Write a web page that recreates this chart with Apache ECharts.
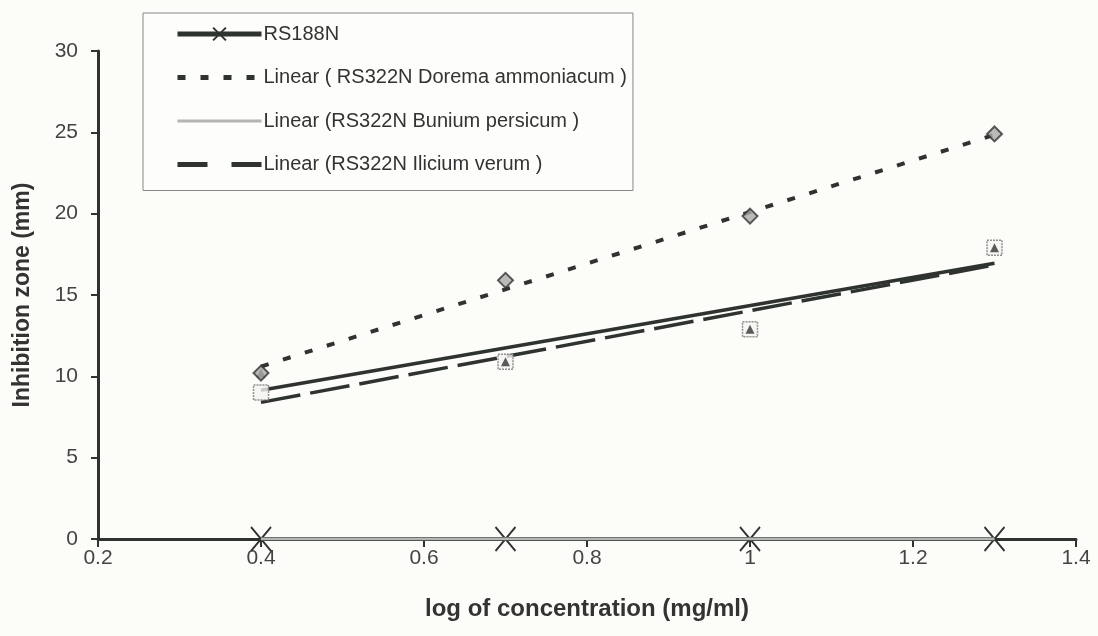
<!DOCTYPE html>
<html><head><meta charset="utf-8">
<script src="https://cdn.jsdelivr.net/npm/echarts@6/dist/echarts.min.js"></script>
<style>html,body{margin:0;padding:0;background:#fcfcf9;}#c{width:1098px;height:636px;}</style>
</head><body><div id="c"></div>
<script>
var xValues = [0.4, 0.7, 1.0, 1.3];
var rs188n = [0, 0, 0, 0];
var doremaPoints = [10.2, 15.9, 19.85, 24.9];
var squarePoints = [9.0, 10.9, 12.9, 17.9];
var trianglePoints = [10.2, 10.9, 12.9, 17.9];
var trendX = [0.4, 1.3];
var doremaTrend = [10.6, 24.85];
var buniumTrend = [0, 0];
var iliciumTrend = [8.4, 16.85];
var solidTrend = [9.15, 16.95];
var xTicks = [0.2, 0.4, 0.6, 0.8, 1, 1.2, 1.4];
var yTicks = [0, 5, 10, 15, 20, 25, 30];
var names = ['RS188N', 'Linear ( RS322N Dorema ammoniacum )', 'Linear (RS322N Bunium persicum )', 'Linear (RS322N Ilicium verum )'];

function pairs(xs, ys) { return xs.map(function (x, i) { return [x, ys[i]]; }); }

var dark = '#2f3330';
var font = 'Liberation Sans, Arial';
var hideSym = { color: 'rgba(0,0,0,0)', borderWidth: 0, opacity: 0 };
var chart = echarts.init(document.getElementById('c'));
chart.setOption({
  backgroundColor: '#fcfcf9',
  animation: false,
  grid: { left: 98, right: 22, top: 51, bottom: 97 },
  legend: {
    data: [
      { name: names[0], lineStyle: { width: 5 } },
      { name: names[1], itemStyle: hideSym, lineStyle: { width: 5 } },
      { name: names[2], itemStyle: hideSym, lineStyle: { width: 3 } },
      { name: names[3], itemStyle: hideSym, lineStyle: { width: 5, type: [30, 24] } }
    ],
    orient: 'vertical',
    left: 143, top: 13,
    padding: [11, 6, 16, 32],
    itemWidth: 84, itemHeight: 16, itemGap: 23.5,
    backgroundColor: '#fdfdfb',
    borderColor: '#888', borderWidth: 1,
    textStyle: { fontFamily: font, fontSize: 20, color: '#333', padding: [0, 0, 0, -3] }
  },
  xAxis: {
    type: 'value', min: 0.2, max: 1.4, interval: 0.2,
    name: 'log of concentration (mg/ml)', nameLocation: 'middle', nameGap: 58,
    nameTextStyle: { fontFamily: font, fontSize: 24, fontWeight: 'bold', color: '#333' },
    axisLine: { lineStyle: { color: dark, width: 3 } },
    axisTick: { show: true, length: 8, lineStyle: { color: dark, width: 2 } },
    axisLabel: { fontFamily: font, fontSize: 21, color: '#444', margin: 9,
      formatter: function (v) { var t = xTicks.filter(function (k) { return Math.abs(k - v) < 1e-6; }); return t.length ? String(t[0]) : ''; } },
    splitLine: { show: false }
  },
  yAxis: {
    type: 'value', min: 0, max: 30, interval: 5,
    name: 'Inhibition zone (mm)', nameLocation: 'middle', nameGap: 64,
    nameTextStyle: { fontFamily: font, fontSize: 23, fontWeight: 'bold', color: '#333' },
    axisLine: { show: true, lineStyle: { color: dark, width: 3 } },
    axisTick: { show: true, length: 7, lineStyle: { color: dark, width: 2 } },
    axisLabel: { fontFamily: font, fontSize: 21, color: '#444', margin: 20,
      formatter: function (v) { return yTicks.indexOf(v) >= 0 ? String(v) : ''; } },
    splitLine: { show: false }
  },
  series: [
    { name: 'solid', type: 'line', data: pairs(trendX, solidTrend), symbol: 'none',
      lineStyle: { color: dark, width: 3.5 }, z: 3 },
    { name: names[1], type: 'line', data: pairs(trendX, doremaTrend), symbol: 'none',
      color: dark, lineStyle: { color: dark, width: 4, type: [8, 15] }, z: 3 },
    { name: names[3], type: 'line', data: pairs(trendX, iliciumTrend), symbol: 'none',
      color: dark, lineStyle: { color: dark, width: 3.5, type: [40, 10] }, z: 3 },
    { name: 'squares', type: 'scatter', data: pairs(xValues, squarePoints), symbol: 'rect', symbolSize: 15,
      itemStyle: { color: '#f4f4f0', borderColor: '#777', borderWidth: 1.5, borderType: [2, 1] }, z: 4 },
    { name: 'triangles', type: 'scatter', data: pairs(xValues, trianglePoints), symbol: 'triangle', symbolSize: 9,
      itemStyle: { color: '#333' }, z: 5 },
    { name: 'diamonds', type: 'scatter', data: pairs(xValues, doremaPoints), symbol: 'diamond', symbolSize: 15,
      itemStyle: { color: '#a8aaa6', borderColor: '#333', borderWidth: 2 }, z: 5 },
    { name: names[0], type: 'line', data: pairs(xValues, rs188n),
      symbol: 'path://M0,0L10,12M10,0L0,12', symbolSize: [20, 24], showSymbol: true,
      color: dark,
      itemStyle: { color: 'none', borderColor: dark, borderWidth: 2 },
      lineStyle: { color: dark, width: 4 }, z: 6 },
    { name: names[2], type: 'line', data: pairs(trendX, buniumTrend), symbol: 'none',
      color: '#b4b6b2', lineStyle: { color: '#b4b6b2', width: 3 }, z: 7 }
  ]
});
</script>
</body></html>
